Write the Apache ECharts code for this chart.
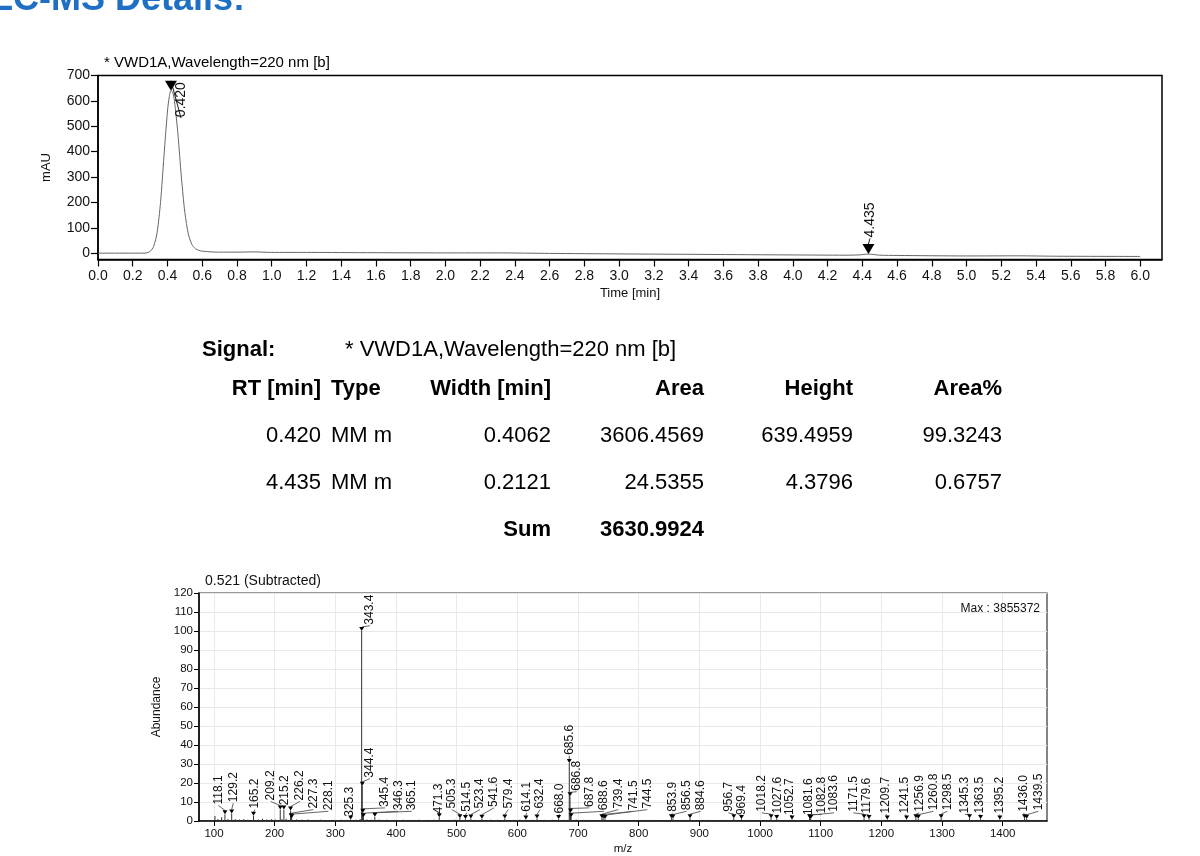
<!DOCTYPE html>
<html><head><meta charset="utf-8">
<script src="https://cdn.jsdelivr.net/npm/echarts@6/dist/echarts.min.js"></script>
<style>html,body{margin:0;padding:0;background:#fff;overflow:hidden}#chart{width:1200px;height:856px}</style>
</head><body><div id="chart"></div>
<script>
// ---------- Chromatogram (UV 220 nm) ----------
const chromTime   = [0.00,0.10,0.20,0.25,0.28,0.30,0.32,0.34,0.36,0.38,0.40,0.41,0.42,0.43,0.44,0.45,0.46,0.47,0.48,0.49,0.50,0.52,0.54,0.56,0.58,0.60,0.65,0.70,0.80,0.90,1.00,1.20,1.50,2.00,2.30,2.60,3.00,3.50,4.00,4.30,4.38,4.41,4.435,4.46,4.50,4.60,5.00,5.30,5.50,6.00];
const chromSignal = [0,0,0,0,1,7,26,80,200,385,560,615,640,634,600,540,470,385,300,225,160,75,35,18,11,8,5,4,4,5,3,3,2,1,1,-1,-3,-5,-7,-8,-7,-5,-3.5,-5,-8,-9,-11,-10.5,-12,-13];
const chromPeakRT    = [0.420, 4.435];
const chromPeakApex  = [640, -3.5];
const chromLabelRT   = [0.478, 4.444];
const chromLabelY    = [532, 58];
const chromXTicks = [0.0,0.2,0.4,0.6,0.8,1.0,1.2,1.4,1.6,1.8,2.0,2.2,2.4,2.6,2.8,3.0,3.2,3.4,3.6,3.8,4.0,4.2,4.4,4.6,4.8,5.0,5.2,5.4,5.6,5.8,6.0];
const chromYTicks = [0,100,200,300,400,500,600,700];

// ---------- Integration table ----------
const tableHeaders = ['RT [min]','Type','Width [min]','Area','Height','Area%'];
const tableRT      = ['0.420','4.435'];
const tableType    = ['MM m','MM m'];
const tableWidth   = ['0.4062','0.2121'];
const tableArea    = ['3606.4569','24.5355'];
const tableHeight  = ['639.4959','4.3796'];
const tableAreaPct = ['99.3243','0.6757'];
const tableSum     = '3630.9924';

// ---------- Mass spectrum ----------
const msPeakMz  = [118.1,129.2,165.2,209.2,215.2,226.2,227.3,228.1,325.3,343.4,344.4,345.4,346.3,365.1,471.3,505.3,514.5,523.4,541.6,579.4,614.1,632.4,668.0,685.6,686.8,687.8,688.6,739.4,741.5,744.5,853.9,856.5,884.6,956.7,969.4,1018.2,1027.6,1052.7,1081.6,1082.8,1083.6,1171.5,1179.6,1209.7,1241.5,1256.9,1260.8,1298.5,1345.3,1363.5,1395.2,1436.0,1439.5];
const msPeakAb  = [3.5,4.0,2.8,6.0,6.0,5.5,2.0,1.5,0.8,100,18.5,4.3,2.0,2.2,2.0,1.5,1.0,1.3,1.2,1.3,0.8,1.3,1.0,30.5,13.0,4.5,2.0,1.5,1.3,1.0,1.5,1.3,1.5,1.5,1.0,1.5,1.0,0.8,1.5,1.3,1.0,1.5,1.0,0.8,0.8,1.5,1.2,1.5,1.5,1.0,0.8,1.5,1.2];
const msLabelAtMz = [107.1,131.8,167.6,193.5,217.0,241.7,263.7,288.4,324.2,357.1,357.1,381.9,403.8,425.9,469.7,491.8,516.5,538.4,561.5,585.0,615.4,637.3,670.3,685.6,697.8,718.6,742.8,766.4,791.1,814.2,856.1,879.1,902.2,947.7,969.8,1002.8,1028.5,1049.4,1079.6,1101.6,1121.9,1153.8,1175.8,1207.1,1238.9,1262.5,1285.6,1308.7,1337.9,1361.4,1394.4,1434.0,1458.7];
const msLabelAtAb = [8.2,9.4,6.0,10.3,7.7,10.3,6.0,5.1,1.7,102.8,22.3,6.9,5.1,5.1,3.4,6.0,4.3,6.0,6.9,6.0,4.3,6.0,3.4,34.3,15.4,6.9,5.1,6.0,5.1,6.0,4.3,5.1,5.1,4.3,2.6,4.3,3.4,2.6,2.6,3.4,4.3,4.3,3.4,3.4,3.4,4.3,5.1,5.1,3.4,3.4,3.4,4.3,5.1];
const msNoiseMz = [101.6,106.5,112.6,123,135,142,149,156,173,180,187,195,201,212,219,236,245,255,267,276,298,310,318,334,341,352,359,372,385,398,412,425,438,452,463,489,497,530,556,567,593,604,622,645,657,678,697,709,722,758,772,790,805,820,835,870,897,914,930,944,985,1000,1040,1066,1100,1120,1140,1158,1195,1225,1275,1315,1330,1380,1410,1425,1455,1468];
const msNoiseAb = [2.6,1.0,2.0,1.0,1.0,0.8,1.0,0.7,0.8,1.2,0.8,1.0,0.8,1.0,1.2,0.8,0.7,0.8,0.6,0.7,0.6,0.7,0.6,0.7,1.0,0.8,0.7,0.8,0.7,0.6,0.7,0.6,0.7,0.6,0.7,0.6,0.7,0.6,0.7,0.6,0.6,0.7,0.6,0.6,0.7,0.6,0.8,0.6,0.6,0.6,0.6,0.5,0.6,0.6,0.5,0.6,0.5,0.6,0.5,0.6,0.6,0.5,0.6,0.5,0.6,0.5,0.6,0.5,0.6,0.5,0.6,0.5,0.6,0.5,0.6,0.5,0.6,0.5];
const msXTicks = [100,200,300,400,500,600,700,800,900,1000,1100,1200,1300,1400];
const msYTicks = [0,10,20,30,40,50,60,70,80,90,100,110,120];
const msMaxText = 'Max : 3855372';
const msTitle = '0.521 (Subtracted)';
const chromTitle = '* VWD1A,Wavelength=220 nm [b]';

const FONT = '"Liberation Sans", Arial, Helvetica, sans-serif';

function txt(x, y, s, size, align, bold, color) {
  return {
    type: 'text', x: x, y: y, z: 20,
    style: {
      text: s, font: (bold ? 'bold ' : '') + size + 'px ' + FONT,
      fill: color || '#000', textAlign: align, align: align,
      textVerticalAlign: 'middle', verticalAlign: 'middle'
    }
  };
}

const graphics = [];
graphics.push(txt(-9, 0, 'LC-MS Details:', 36, 'left', true, '#1f6fc5'));
graphics.push(txt(104, 63, chromTitle, 15, 'left', false, '#000'));
graphics.push(txt(205, 581, msTitle, 14, 'left', false, '#111'));
graphics.push(txt(1040, 609, msMaxText, 12, 'right', false, '#111'));
// table
graphics.push(txt(202, 350, 'Signal:', 22, 'left', true));
graphics.push(txt(345, 350, chromTitle, 22, 'left', false));
const colX = [321, 331, 551, 704, 853, 1002];
const colAlign = ['right','left','right','right','right','right'];
tableHeaders.forEach((h, i) => graphics.push(txt(colX[i], 389, h, 22, colAlign[i], true)));
const rowsY = [436, 483];
tableRT.forEach((_, r) => {
  const vals = [tableRT[r], tableType[r], tableWidth[r], tableArea[r], tableHeight[r], tableAreaPct[r]];
  vals.forEach((v, i) => graphics.push(txt(colX[i], rowsY[r], v, 22, colAlign[i], false)));
});
graphics.push(txt(colX[2], 529.5, 'Sum', 22, 'right', true));
graphics.push(txt(colX[3], 529.5, tableSum, 22, 'right', true));

function peakRenderer(triW, triH, fontSize, digits, lineColor) {
  return function (params, api) {
    const p = api.coord([api.value(0), api.value(1)]);
    const l = api.coord([api.value(2), api.value(3)]);
    const text = api.value(0).toFixed(digits);
    return {
      type: 'group',
      children: [
        { type: 'line', shape: { x1: p[0], y1: p[1] - triH, x2: l[0], y2: l[1] },
          style: { stroke: lineColor, lineWidth: 0.9 } },
        { type: 'polygon', shape: { points: [[p[0] - triW / 2, p[1] - triH], [p[0] + triW / 2, p[1] - triH], [p[0], p[1]]] },
          style: { fill: '#000' } },
        { type: 'text', x: l[0], y: l[1] - 1, rotation: Math.PI / 2,
          style: { text: text, font: fontSize + 'px ' + FONT, fill: '#111',
                   textAlign: 'left', align: 'left', textVerticalAlign: 'middle', verticalAlign: 'middle' } }
      ]
    };
  };
}

const msSticks = msNoiseMz.map((m, i) => [m, msNoiseAb[i]]).concat(msPeakMz.map((m, i) => [m, msPeakAb[i]]));

const option = {
  animation: false,
  backgroundColor: '#ffffff',
  textStyle: { fontFamily: FONT },
  graphic: graphics,
  grid: [
    { left: 98, top: 75.5, width: 1064, height: 184, show: true, borderColor: '#000', borderWidth: 1.5, backgroundColor: 'transparent' },
    { left: 199, top: 593, width: 848, height: 234, show: true, borderColor: '#333', borderWidth: 1.2, backgroundColor: 'transparent' }
  ],
  xAxis: [
    { type: 'value', gridIndex: 0, min: 0, max: 6.125,
      axisLine: { onZero: false, lineStyle: { color: '#000', width: 1.5 } },
      axisTick: { customValues: chromXTicks, length: 7, lineStyle: { color: '#000', width: 1.2 } },
      axisLabel: { customValues: chromXTicks, formatter: v => v.toFixed(1), fontSize: 14, color: '#111', margin: 10, fontFamily: FONT },
      splitLine: { show: false },
      name: 'Time [min]', nameLocation: 'middle', nameGap: 27,
      nameTextStyle: { fontSize: 13, color: '#111', fontFamily: FONT } },
    { type: 'value', gridIndex: 1, min: 75.3, max: 1473,
      axisLine: { onZero: false, lineStyle: { color: '#000', width: 1.5 } },
      axisTick: { customValues: msXTicks, length: 5, lineStyle: { color: '#000', width: 1 } },
      axisLabel: { customValues: msXTicks, formatter: v => String(v), fontSize: 11.5, color: '#111', margin: 7, fontFamily: FONT },
      splitLine: { show: true, lineStyle: { color: '#e9e9e9', width: 1 } },
      name: 'm/z', nameLocation: 'middle', nameGap: 22,
      nameTextStyle: { fontSize: 11.5, color: '#111', fontFamily: FONT } }
  ],
  yAxis: [
    { type: 'value', gridIndex: 0, min: -25, max: 700,
      axisLine: { show: true, onZero: false, lineStyle: { color: '#000', width: 1.5 } },
      axisTick: { show: true, customValues: chromYTicks, length: 7, lineStyle: { color: '#000', width: 1.2 } },
      axisLabel: { customValues: chromYTicks, fontSize: 14, color: '#111', margin: 8, fontFamily: FONT },
      splitLine: { show: false },
      name: 'mAU', nameLocation: 'middle', nameGap: 45, nameRotate: 90,
      nameTextStyle: { fontSize: 13, color: '#111', fontFamily: FONT } },
    { type: 'value', gridIndex: 1, min: 0, max: 120, interval: 10,
      axisLine: { show: true, onZero: false, lineStyle: { color: '#000', width: 1.5 } },
      axisTick: { show: true, customValues: msYTicks, length: 5, lineStyle: { color: '#000', width: 1 } },
      axisLabel: { customValues: msYTicks, fontSize: 11.5, color: '#111', margin: 6, fontFamily: FONT },
      splitLine: { show: true, lineStyle: { color: '#e9e9e9', width: 1 } },
      name: 'Abundance', nameLocation: 'middle', nameGap: 33, nameRotate: 90,
      nameTextStyle: { fontSize: 12, color: '#111', fontFamily: FONT } }
  ],
  series: [
    { type: 'line', xAxisIndex: 0, yAxisIndex: 0, showSymbol: false, symbol: 'none',
      smooth: 0.25,
      lineStyle: { color: '#666', width: 1 },
      data: chromTime.map((t, i) => [t, chromSignal[i]]) },
    { type: 'custom', xAxisIndex: 0, yAxisIndex: 0, clip: false, z: 5,
      encode: { x: 0, y: 1 },
      data: chromPeakRT.map((t, i) => [t, chromPeakApex[i], chromLabelRT[i], chromLabelY[i]]),
      renderItem: peakRenderer(12, 10, 14, 3, '#000') },
    { type: 'custom', xAxisIndex: 1, yAxisIndex: 1, z: 3,
      encode: { x: 0, y: 1 },
      data: msSticks,
      renderItem: function (params, api) {
        const b = api.coord([api.value(0), 0]);
        const t = api.coord([api.value(0), api.value(1)]);
        return { type: 'line', shape: { x1: b[0], y1: b[1], x2: t[0], y2: t[1] }, style: { stroke: '#333', lineWidth: 1 } };
      } },
    { type: 'custom', xAxisIndex: 1, yAxisIndex: 1, clip: false, z: 6,
      encode: { x: 0, y: 1 },
      data: msPeakMz.map((m, i) => [m, msPeakAb[i], msLabelAtMz[i], msLabelAtAb[i]]),
      renderItem: peakRenderer(5, 4, 12, 1, '#555') }
  ]
};

const chart = echarts.init(document.getElementById('chart'), null, { renderer: 'canvas' });
chart.setOption(option);
</script></body></html>
